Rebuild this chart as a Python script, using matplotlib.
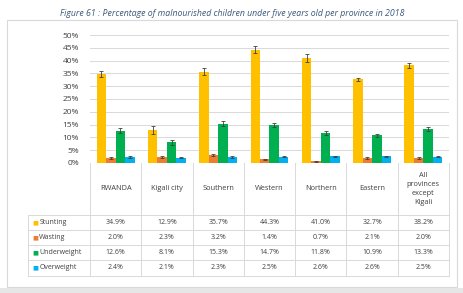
import numpy as np
import matplotlib.pyplot as plt
from matplotlib.patches import Rectangle
from matplotlib.transforms import blended_transform_factory

plt.rcParams['font.family'] = ['Open Sans', 'DejaVu Sans']

provinces = ["RWANDA", "Kigali city", "Southern", "Western", "Northern", "Eastern",
             "All\nprovinces\nexcept\nKigali"]
series = ["Stunting", "Wasting", "Underweight", "Overweight"]
stunting = [34.9, 12.9, 35.7, 44.3, 41.0, 32.7, 38.2]
wasting = [2.0, 2.3, 3.2, 1.4, 0.7, 2.1, 2.0]
underweight = [12.6, 8.1, 15.3, 14.7, 11.8, 10.9, 13.3]
overweight = [2.4, 2.1, 2.3, 2.5, 2.6, 2.6, 2.5]
# small error bars
stunting_err = [1.2, 1.5, 1.5, 1.3, 1.4, 0.6, 1.0]
wasting_err = [0.4, 0.4, 0.5, 0.3, 0.2, 0.4, 0.3]
underweight_err = [0.9, 0.9, 1.0, 0.8, 0.8, 0.6, 0.7]
overweight_err = [0.3, 0.3, 0.3, 0.3, 0.3, 0.3, 0.3]
yticks = [0, 5, 10, 15, 20, 25, 30, 35, 40, 45, 50]

colors = ["#FFC000", "#ED7D31", "#00B050", "#00B0F0"]
values = [stunting, wasting, underweight, overweight]
errors = [stunting_err, wasting_err, underweight_err, overweight_err]

W, H = 464, 293
fig = plt.figure(figsize=(W / 100, H / 100), dpi=100)
fig.patch.set_facecolor("white")

# outer frame
fig.add_artist(Rectangle((7 / W, 1 - 287 / H), 450 / W, 267 / H, transform=fig.transFigure,
                         fill=False, edgecolor="#d9d9d9", linewidth=0.8))
fig.add_artist(Rectangle((0, 0), 1, 1 - 288 / H, transform=fig.transFigure,
                         facecolor="#e6e6e6", edgecolor="none"))

fig.text(0.5, 1 - 14 / H,
         "Figure 61 : Percentage of malnourished children under five years old per province in 2018",
         ha="center", va="center", fontsize=6.3, style="italic", color="#3d5a7a")

ax = fig.add_axes([90 / W, 1 - 163 / H, 359 / W, 128 / H])
x = np.arange(len(provinces))
bw = 0.185
for i, (vals, errs, c) in enumerate(zip(values, errors, colors)):
    ax.bar(x + (i - 1.5) * bw, vals, bw, color=c, yerr=errs,
           error_kw=dict(ecolor="#404040", elinewidth=0.6, capsize=1.3, capthick=0.6),
           zorder=3)

ax.set_xlim(-0.5, len(provinces) - 0.5)
ax.set_ylim(0, 50)
ax.set_yticks(yticks)
ax.set_yticklabels([f"{t}%" for t in yticks], fontsize=6, color="#404040")
ax.set_xticks([])
ax.grid(axis="y", color="#d9d9d9", linewidth=0.7, zorder=0)
for s in ax.spines.values():
    s.set_visible(False)
ax.axhline(0, color="#d9d9d9", linewidth=0.7, zorder=2)
ax.tick_params(axis="y", length=0, pad=8)

# data table under the chart
tr = blended_transform_factory(ax.transData, ax.transAxes)
px = 128.0  # axes height in pixels
y_hdr = -(215 - 163) / px
row_edges = [y_hdr] + [-(r - 163) / px for r in (230, 245, 260, 276)]
x_left = -0.5 - (90 - 28) / (359 / len(provinces))
lc = "#d9d9d9"

for k in range(len(provinces) + 1):
    ax.plot([k - 0.5, k - 0.5], [0, row_edges[-1]], color=lc, lw=0.7,
            transform=tr, clip_on=False)
ax.plot([x_left, x_left], [row_edges[0], row_edges[-1]], color=lc, lw=0.7,
        transform=tr, clip_on=False)
for yy in row_edges:
    ax.plot([x_left, len(provinces) - 0.5], [yy, yy], color=lc, lw=0.7,
            transform=tr, clip_on=False)

for j, name in enumerate(provinces):
    ax.text(j, y_hdr / 2, name, transform=tr, ha="center", va="center",
            fontsize=5.3, color="#404040", linespacing=1.35)

for r, (name, vals, c) in enumerate(zip(series, values, colors)):
    yc = (row_edges[r] + row_edges[r + 1]) / 2
    ax.text(x_left + 0.08, yc, "■", transform=tr, ha="left", va="center",
            fontsize=4.5, color=c, family="DejaVu Sans")
    ax.text(x_left + 0.22, yc, name, transform=tr, ha="left", va="center",
            fontsize=5, color="#404040")
    for j, v in enumerate(vals):
        ax.text(j, yc, f"{v:.1f}%", transform=tr, ha="center", va="center",
                fontsize=5, color="#404040")

fig.savefig("out.png", dpi=100)
